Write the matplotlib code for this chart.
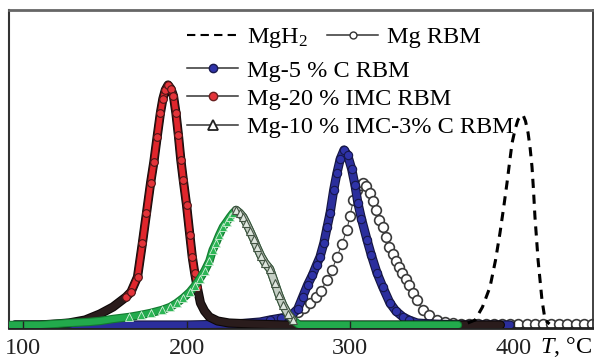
import numpy as np
import matplotlib
matplotlib.use("Agg")
import matplotlib.pyplot as plt
import matplotlib.patheffects as pe
from matplotlib.lines import Line2D

plt.rcParams['font.family'] = ['Liberation Serif', 'DejaVu Serif']
plt.rcParams['mathtext.fontset'] = 'custom'
plt.rcParams['mathtext.rm'] = 'Liberation Serif'
plt.rcParams['mathtext.it'] = 'Liberation Serif:italic'

# temperature (deg C) and signal (a.u.)
t_mgh2 = [372, 376.5, 381, 385.6, 389, 391.7, 394, 396, 397.6, 399.1, 401, 402.7, 404.3,
          405.8, 407.3, 408.9, 410.2, 411.3, 412.2, 413.1, 414, 415, 416.2, 417.4, 419.3, 422]
v_mgh2 = [2, 5, 18, 38, 65, 92, 118, 142, 163, 182, 196, 205, 209,
          210, 204, 192, 176, 158, 135, 108, 88, 65, 45, 25, 5, 1]

t_mg = [251, 258, 263, 268, 272, 275.5, 279, 282, 286, 289, 292, 295, 298, 300, 302, 304,
        306, 308, 310, 312, 314, 316, 318, 320, 322, 324, 326, 328, 330, 332, 334, 336,
        338.5, 341, 344.5, 348, 353, 358, 363, 368, 373, 378, 383, 388, 393, 398, 403,
        408, 413, 418, 423, 428, 433, 438, 443, 448]
v_mg = [3, 5, 8, 13, 17, 22, 28, 34, 45, 55, 68, 81, 95, 109, 125, 135,
        140, 142, 139, 132, 124, 115, 105, 98, 88, 78, 71, 64, 58, 52, 46, 40,
        32, 25, 15, 10, 5, 3, 2, 1, 1, 1, 1, 1, 1, 1, 1,
        1, 1, 1, 1, 1, 1, 1, 1, 1]

t_c5 = [95, 130, 160, 200, 230, 245, 251, 258, 263, 268, 271, 274, 277, 279.5, 281.6, 284,
        286, 287.8, 290, 292, 294, 296.3, 298.5, 301, 303, 304.8, 307, 310.4, 313, 316.5,
        320, 324.4, 328, 332.4, 336, 341, 350, 370, 398]
v_c5 = [0, 0, 0, 0, 1, 3, 5, 7, 8, 16, 28, 40, 50, 60, 68, 82,
        98, 112, 135, 152, 166, 175, 170, 156, 140, 122, 106, 85, 70, 52,
        38, 22, 14, 8, 5, 2, 1, 0, 0]

t_imc20 = [95, 110, 120, 128, 138, 147, 155, 159, 163, 166, 170, 173, 175.5, 178, 180, 182,
           184, 185.5, 187, 188.7, 190.5, 192, 193.5, 195, 196.5, 198, 200, 202, 203.5,
           205, 206.5, 208.5, 211, 214, 219, 226, 240, 260, 300, 340, 392]
v_imc20 = [0, 0, 1, 2, 5, 11, 18, 23, 28, 33, 48, 82, 112, 142, 163, 188,
           212, 226, 235, 240, 236, 229, 212, 190, 165, 145, 120, 90, 68,
           52, 38, 22, 14, 8, 4, 2, 1, 0, 0, 0, 0]

t_imc10 = [91.5, 110, 128, 140, 147, 155, 165, 172, 178, 185, 190, 194, 198, 202, 205, 208,
           211, 214, 216, 218, 220, 222.3, 224.5, 226.6, 228.5, 230.3, 232.5, 234.6, 236.5,
           238.8, 241, 243, 245.5, 248, 251, 254, 256.5, 259, 262, 265, 269, 290, 320, 350, 366]
v_imc10 = [0, 0, 2, 3, 4, 6, 8, 10, 12, 15, 18, 22, 27, 33, 39, 46,
           54, 64, 75, 82, 90, 98, 103, 108, 112, 115, 112, 108, 102,
           94, 86, 78, 69, 62, 56, 42, 30, 20, 11, 5, 0, 0, 0, 0, 0]

x_ticks = [100, 200, 300, 400]


def ribbon(ax, t, v, face, edge, lw, z):
    ax.plot(t, v, color=face, lw=lw, solid_capstyle='round', solid_joinstyle='round', zorder=z,
            path_effects=[pe.Stroke(linewidth=lw + 1.6, foreground=edge), pe.Normal()])


fig = plt.figure(figsize=(5.94, 3.6), dpi=100)
ax = fig.add_axes([9 / 594, 32 / 360, 584 / 594, 318 / 360])

# Mg RBM - open circles
ax.plot(t_mg, v_mg, color='#444444', lw=0.8, marker='o', ms=7, mfc='white',
        mec='#3a3a3a', mew=1.2, zorder=2)

# Mg-5 % C RBM
t = np.array(t_c5)
v = np.array(v_c5)
ribbon(ax, t, v, '#2b2e9c', '#15163f', 5, 3)
ax.plot(t[v > 3], v[v > 3], ls='none', marker='o', ms=6, mfc='#2f33a8', mec='#16174a', mew=0.8, zorder=3)

# Mg-20 % IMC RBM
t = np.array(t_imc20)
v = np.array(v_imc20)
ribbon(ax, t, v, '#2a1c1c', '#0d0808', 5, 4)
pk = v >= 25
ribbon(ax, t[pk], v[pk], '#e0262c', '#3a1010', 4, 4)
ax.plot(t[pk], v[pk], ls='none', marker='o', ms=5.5, mfc='#e4343a', mec='#4a1616', mew=0.8, zorder=4)

# MgH2
ax.plot(t_mgh2, v_mgh2, color='black', lw=2.2, ls=(0, (3, 2.2)), zorder=5)

# Mg-10 % IMC-3% C RBM: green rise and baseline, grey falling side
t = np.array(t_imc10)
v = np.array(v_imc10)
top = np.argmax(v)
end = top + np.argmax(v[top:] == 0)
ribbon(ax, t, v, '#22aa4c', '#137a30', 4.5, 6)
rise = (v >= 8) & (np.arange(len(v)) <= top)
ax.plot(t[rise], v[rise], ls='none', marker='^', ms=6, mfc='#2cb656', mec='#d8f0dc',
        mew=0.6, zorder=6)
ribbon(ax, t[top:end], v[top:end], '#c5cfc5', '#3f4f3f', 4.5, 6)
ax.plot(t[top:end], v[top:end], ls='none', marker='^', ms=6, mfc='#dfe6df', mec='#445544',
        mew=0.8, zorder=6)

ax.set_xlim(91.4, 448.6)
ax.set_ylim(-3, 315)
ax.set_xticks(x_ticks)
ax.set_xticklabels([str(x) for x in x_ticks])
ax.set_yticks([])
ax.tick_params(axis='x', direction='in', length=5, width=1, pad=7, labelsize=17.5, colors='#222222')
ax.xaxis.set_zorder(10)

for side, lw, c in [('left', 1.5, '#333333'), ('top', 2, '#666666'),
                    ('right', 1.3, '#333333'), ('bottom', 2, '#222222')]:
    ax.spines[side].set_linewidth(lw)
    ax.spines[side].set_color(c)

fig.text(592 / 594, 1 - 347 / 360, '$T$, °C', ha='right', va='center', fontsize=17.5)

# legend
h1 = [Line2D([], [], color='black', lw=1.5, ls=(0, (4, 2.5))),
      Line2D([], [], color='#333333', lw=1.1, marker='o', ms=5, mfc='white', mec='#333333')]
fig.legend(h1, ['MgH$_2$', 'Mg RBM'], loc='center left', ncol=2,
           bbox_to_anchor=(187 / 594, 1 - 38 / 360), bbox_transform=fig.transFigure,
           frameon=False, fontsize=17.5, borderpad=0, borderaxespad=0,
           handlelength=2.1, handletextpad=0.35, columnspacing=0.8)

h2 = [Line2D([], [], color='#333333', lw=1.1, marker='o', ms=6, mfc='#2f33a8', mec='#1a1a50'),
      Line2D([], [], color='#333333', lw=1.1, marker='o', ms=6, mfc='#e4343a', mec='#6a2020'),
      Line2D([], [], color='#333333', lw=1.1, marker='^', ms=6.5, mfc='white', mec='#222222', mew=1.3)]
fig.legend(h2, ['Mg-5 % C RBM', 'Mg-20 % IMC RBM', 'Mg-10 % IMC-3% C RBM'], loc='center left',
           bbox_to_anchor=(187 / 594, 1 - 99 / 360), bbox_transform=fig.transFigure,
           frameon=False, fontsize=17.5, borderpad=0, borderaxespad=0,
           handlelength=2.1, handletextpad=0.35, labelspacing=0.25)

fig.savefig('out.png', dpi=100)
